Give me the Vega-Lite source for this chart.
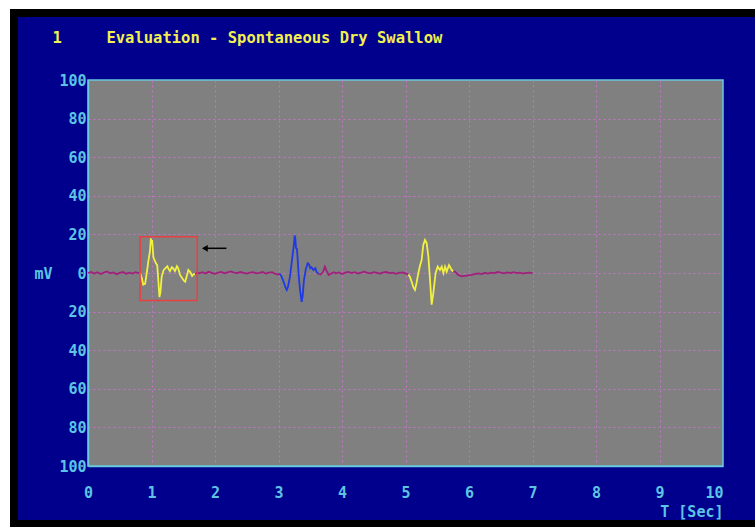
{
  "$schema": "https://vega.github.io/schema/vega-lite/v6.json",
  "autosize": {"type": "none"},
  "width": 635,
  "height": 386,
  "padding": {"left": 88, "top": 80, "right": 32, "bottom": 61},
  "background": "#00008c",
  "config": {
    "view": {"fill": "#808080", "stroke": "#68c8dc", "strokeWidth": 1.5},
    "axis": {
      "labelFont": "DejaVu Sans Mono",
      "labelFontSize": 15,
      "labelFontWeight": "bold",
      "labelColor": "#5cc4e4",
      "labelOverlap": false,
      "labelFlush": false,
      "titleFont": "DejaVu Sans Mono",
      "titleFontSize": 15,
      "titleFontWeight": "bold",
      "titleColor": "#5cc4e4",
      "domainColor": "#68c8dc",
      "domainWidth": 1.5,
      "ticks": false,
      "grid": true,
      "gridDash": [2, 3],
      "gridWidth": 1
    }
  },
  "datasets": {
    "signal": [
      {"t": 0.0, "v": 0.0, "kind": "base", "seg": "b1"},
      {"t": 0.05, "v": 0.5, "kind": "base", "seg": "b1"},
      {"t": 0.1, "v": -0.3, "kind": "base", "seg": "b1"},
      {"t": 0.15, "v": 0.4, "kind": "base", "seg": "b1"},
      {"t": 0.2, "v": -0.5, "kind": "base", "seg": "b1"},
      {"t": 0.25, "v": 0.2, "kind": "base", "seg": "b1"},
      {"t": 0.3, "v": 0.8, "kind": "base", "seg": "b1"},
      {"t": 0.35, "v": -0.2, "kind": "base", "seg": "b1"},
      {"t": 0.4, "v": 0.3, "kind": "base", "seg": "b1"},
      {"t": 0.45, "v": -0.6, "kind": "base", "seg": "b1"},
      {"t": 0.5, "v": 0.1, "kind": "base", "seg": "b1"},
      {"t": 0.55, "v": 0.5, "kind": "base", "seg": "b1"},
      {"t": 0.6, "v": -0.4, "kind": "base", "seg": "b1"},
      {"t": 0.65, "v": 0.2, "kind": "base", "seg": "b1"},
      {"t": 0.7, "v": -0.3, "kind": "base", "seg": "b1"},
      {"t": 0.75, "v": 0.4, "kind": "base", "seg": "b1"},
      {"t": 0.8, "v": -0.2, "kind": "base", "seg": "b1"},
      {"t": 0.82, "v": 0.0, "kind": "base", "seg": "b1"},

      {"t": 0.82, "v": 0.0, "kind": "yellow", "seg": "y1"},
      {"t": 0.85, "v": -3.0, "kind": "yellow", "seg": "y1"},
      {"t": 0.87, "v": -6.0, "kind": "yellow", "seg": "y1"},
      {"t": 0.9, "v": -5.5, "kind": "yellow", "seg": "y1"},
      {"t": 0.925, "v": 0.0, "kind": "yellow", "seg": "y1"},
      {"t": 0.95, "v": 6.0, "kind": "yellow", "seg": "y1"},
      {"t": 0.975, "v": 11.0, "kind": "yellow", "seg": "y1"},
      {"t": 0.99, "v": 18.0, "kind": "yellow", "seg": "y1"},
      {"t": 1.0, "v": 15.0, "kind": "yellow", "seg": "y1"},
      {"t": 1.01, "v": 17.0, "kind": "yellow", "seg": "y1"},
      {"t": 1.03, "v": 8.0, "kind": "yellow", "seg": "y1"},
      {"t": 1.05, "v": 6.5, "kind": "yellow", "seg": "y1"},
      {"t": 1.07, "v": 5.0, "kind": "yellow", "seg": "y1"},
      {"t": 1.09, "v": 4.0, "kind": "yellow", "seg": "y1"},
      {"t": 1.11, "v": -5.0, "kind": "yellow", "seg": "y1"},
      {"t": 1.125, "v": -12.5, "kind": "yellow", "seg": "y1"},
      {"t": 1.14, "v": -10.0, "kind": "yellow", "seg": "y1"},
      {"t": 1.16, "v": -2.0, "kind": "yellow", "seg": "y1"},
      {"t": 1.19, "v": 1.5, "kind": "yellow", "seg": "y1"},
      {"t": 1.22, "v": 2.5, "kind": "yellow", "seg": "y1"},
      {"t": 1.25, "v": 3.5, "kind": "yellow", "seg": "y1"},
      {"t": 1.27, "v": 2.0, "kind": "yellow", "seg": "y1"},
      {"t": 1.29, "v": 1.0, "kind": "yellow", "seg": "y1"},
      {"t": 1.32, "v": 3.0, "kind": "yellow", "seg": "y1"},
      {"t": 1.34, "v": 2.5, "kind": "yellow", "seg": "y1"},
      {"t": 1.37, "v": 1.0, "kind": "yellow", "seg": "y1"},
      {"t": 1.4, "v": 3.5, "kind": "yellow", "seg": "y1"},
      {"t": 1.42, "v": 2.5, "kind": "yellow", "seg": "y1"},
      {"t": 1.45, "v": -1.0, "kind": "yellow", "seg": "y1"},
      {"t": 1.48, "v": -2.5, "kind": "yellow", "seg": "y1"},
      {"t": 1.51, "v": -4.0, "kind": "yellow", "seg": "y1"},
      {"t": 1.53, "v": -4.5, "kind": "yellow", "seg": "y1"},
      {"t": 1.56, "v": -1.0, "kind": "yellow", "seg": "y1"},
      {"t": 1.58, "v": 1.5, "kind": "yellow", "seg": "y1"},
      {"t": 1.61, "v": 0.5, "kind": "yellow", "seg": "y1"},
      {"t": 1.64, "v": -1.5, "kind": "yellow", "seg": "y1"},
      {"t": 1.67, "v": -0.5, "kind": "yellow", "seg": "y1"},
      {"t": 1.69, "v": -0.7, "kind": "yellow", "seg": "y1"},

      {"t": 1.69, "v": -0.7, "kind": "base", "seg": "b2"},
      {"t": 1.72, "v": 0.3, "kind": "base", "seg": "b2"},
      {"t": 1.75, "v": -0.2, "kind": "base", "seg": "b2"},
      {"t": 1.8, "v": 0.4, "kind": "base", "seg": "b2"},
      {"t": 1.85, "v": -0.3, "kind": "base", "seg": "b2"},
      {"t": 1.9, "v": 0.6, "kind": "base", "seg": "b2"},
      {"t": 1.95, "v": 0.1, "kind": "base", "seg": "b2"},
      {"t": 2.0, "v": -0.4, "kind": "base", "seg": "b2"},
      {"t": 2.05, "v": 0.2, "kind": "base", "seg": "b2"},
      {"t": 2.1, "v": 0.5, "kind": "base", "seg": "b2"},
      {"t": 2.15, "v": -0.2, "kind": "base", "seg": "b2"},
      {"t": 2.2, "v": 0.3, "kind": "base", "seg": "b2"},
      {"t": 2.25, "v": 0.8, "kind": "base", "seg": "b2"},
      {"t": 2.3, "v": 0.2, "kind": "base", "seg": "b2"},
      {"t": 2.35, "v": -0.1, "kind": "base", "seg": "b2"},
      {"t": 2.4, "v": 0.5, "kind": "base", "seg": "b2"},
      {"t": 2.45, "v": 0.1, "kind": "base", "seg": "b2"},
      {"t": 2.5, "v": -0.3, "kind": "base", "seg": "b2"},
      {"t": 2.55, "v": 0.2, "kind": "base", "seg": "b2"},
      {"t": 2.6, "v": 0.4, "kind": "base", "seg": "b2"},
      {"t": 2.65, "v": -0.2, "kind": "base", "seg": "b2"},
      {"t": 2.7, "v": 0.1, "kind": "base", "seg": "b2"},
      {"t": 2.75, "v": 0.5, "kind": "base", "seg": "b2"},
      {"t": 2.8, "v": -0.3, "kind": "base", "seg": "b2"},
      {"t": 2.85, "v": 0.2, "kind": "base", "seg": "b2"},
      {"t": 2.9, "v": 0.4, "kind": "base", "seg": "b2"},
      {"t": 2.95, "v": -0.5, "kind": "base", "seg": "b2"},
      {"t": 3.0, "v": -0.8, "kind": "base", "seg": "b2"},
      {"t": 3.02, "v": -0.3, "kind": "base", "seg": "b2"},

      {"t": 3.02, "v": -0.3, "kind": "blue", "seg": "u1"},
      {"t": 3.05, "v": -2.0, "kind": "blue", "seg": "u1"},
      {"t": 3.08, "v": -4.5, "kind": "blue", "seg": "u1"},
      {"t": 3.11, "v": -7.5, "kind": "blue", "seg": "u1"},
      {"t": 3.13, "v": -8.8, "kind": "blue", "seg": "u1"},
      {"t": 3.15, "v": -7.0, "kind": "blue", "seg": "u1"},
      {"t": 3.18, "v": -2.0, "kind": "blue", "seg": "u1"},
      {"t": 3.21, "v": 6.0, "kind": "blue", "seg": "u1"},
      {"t": 3.24, "v": 14.0, "kind": "blue", "seg": "u1"},
      {"t": 3.255, "v": 19.5, "kind": "blue", "seg": "u1"},
      {"t": 3.265, "v": 18.0, "kind": "blue", "seg": "u1"},
      {"t": 3.275, "v": 13.0, "kind": "blue", "seg": "u1"},
      {"t": 3.29, "v": 12.5, "kind": "blue", "seg": "u1"},
      {"t": 3.3, "v": 8.0, "kind": "blue", "seg": "u1"},
      {"t": 3.32, "v": -2.0, "kind": "blue", "seg": "u1"},
      {"t": 3.34, "v": -9.0, "kind": "blue", "seg": "u1"},
      {"t": 3.365, "v": -15.0, "kind": "blue", "seg": "u1"},
      {"t": 3.38, "v": -12.0, "kind": "blue", "seg": "u1"},
      {"t": 3.4, "v": -4.0, "kind": "blue", "seg": "u1"},
      {"t": 3.43, "v": 2.0, "kind": "blue", "seg": "u1"},
      {"t": 3.46, "v": 5.0, "kind": "blue", "seg": "u1"},
      {"t": 3.48, "v": 4.5, "kind": "blue", "seg": "u1"},
      {"t": 3.5, "v": 2.5, "kind": "blue", "seg": "u1"},
      {"t": 3.52, "v": 3.0, "kind": "blue", "seg": "u1"},
      {"t": 3.55, "v": 1.5, "kind": "blue", "seg": "u1"},
      {"t": 3.58, "v": 2.5, "kind": "blue", "seg": "u1"},
      {"t": 3.6, "v": 0.5, "kind": "blue", "seg": "u1"},
      {"t": 3.63, "v": -0.5, "kind": "blue", "seg": "u1"},

      {"t": 3.63, "v": -0.5, "kind": "base", "seg": "b3"},
      {"t": 3.66, "v": -0.8, "kind": "base", "seg": "b3"},
      {"t": 3.7, "v": 0.5, "kind": "base", "seg": "b3"},
      {"t": 3.73, "v": 3.3, "kind": "base", "seg": "b3"},
      {"t": 3.76, "v": 1.0, "kind": "base", "seg": "b3"},
      {"t": 3.79, "v": -1.0, "kind": "base", "seg": "b3"},
      {"t": 3.83, "v": -0.3, "kind": "base", "seg": "b3"},
      {"t": 3.87, "v": 0.4, "kind": "base", "seg": "b3"},
      {"t": 3.9, "v": -0.2, "kind": "base", "seg": "b3"},
      {"t": 3.95, "v": 0.3, "kind": "base", "seg": "b3"},
      {"t": 4.0, "v": -0.5, "kind": "base", "seg": "b3"},
      {"t": 4.05, "v": 0.2, "kind": "base", "seg": "b3"},
      {"t": 4.1, "v": 0.6, "kind": "base", "seg": "b3"},
      {"t": 4.15, "v": 0.0, "kind": "base", "seg": "b3"},
      {"t": 4.2, "v": 0.4, "kind": "base", "seg": "b3"},
      {"t": 4.25, "v": -0.3, "kind": "base", "seg": "b3"},
      {"t": 4.3, "v": 0.2, "kind": "base", "seg": "b3"},
      {"t": 4.35, "v": 0.7, "kind": "base", "seg": "b3"},
      {"t": 4.4, "v": 0.1, "kind": "base", "seg": "b3"},
      {"t": 4.45, "v": -0.2, "kind": "base", "seg": "b3"},
      {"t": 4.5, "v": 0.4, "kind": "base", "seg": "b3"},
      {"t": 4.55, "v": 0.1, "kind": "base", "seg": "b3"},
      {"t": 4.6, "v": -0.3, "kind": "base", "seg": "b3"},
      {"t": 4.65, "v": 0.3, "kind": "base", "seg": "b3"},
      {"t": 4.7, "v": 0.5, "kind": "base", "seg": "b3"},
      {"t": 4.75, "v": -0.1, "kind": "base", "seg": "b3"},
      {"t": 4.8, "v": 0.2, "kind": "base", "seg": "b3"},
      {"t": 4.85, "v": -0.4, "kind": "base", "seg": "b3"},
      {"t": 4.9, "v": 0.1, "kind": "base", "seg": "b3"},
      {"t": 4.95, "v": 0.3, "kind": "base", "seg": "b3"},
      {"t": 5.0, "v": -0.2, "kind": "base", "seg": "b3"},
      {"t": 5.045, "v": -0.8, "kind": "base", "seg": "b3"},

      {"t": 5.045, "v": -0.8, "kind": "yellow", "seg": "y2"},
      {"t": 5.07, "v": -2.0, "kind": "yellow", "seg": "y2"},
      {"t": 5.097, "v": -4.5, "kind": "yellow", "seg": "y2"},
      {"t": 5.125, "v": -7.5, "kind": "yellow", "seg": "y2"},
      {"t": 5.149, "v": -8.8, "kind": "yellow", "seg": "y2"},
      {"t": 5.175, "v": -5.0, "kind": "yellow", "seg": "y2"},
      {"t": 5.202, "v": 0.0, "kind": "yellow", "seg": "y2"},
      {"t": 5.23, "v": 4.0, "kind": "yellow", "seg": "y2"},
      {"t": 5.254, "v": 6.7, "kind": "yellow", "seg": "y2"},
      {"t": 5.28, "v": 14.5, "kind": "yellow", "seg": "y2"},
      {"t": 5.307, "v": 17.1, "kind": "yellow", "seg": "y2"},
      {"t": 5.333, "v": 15.5, "kind": "yellow", "seg": "y2"},
      {"t": 5.36, "v": 8.6, "kind": "yellow", "seg": "y2"},
      {"t": 5.386, "v": -3.5, "kind": "yellow", "seg": "y2"},
      {"t": 5.412, "v": -16.4, "kind": "yellow", "seg": "y2"},
      {"t": 5.438, "v": -10.4, "kind": "yellow", "seg": "y2"},
      {"t": 5.475, "v": 0.0, "kind": "yellow", "seg": "y2"},
      {"t": 5.507, "v": 3.3, "kind": "yellow", "seg": "y2"},
      {"t": 5.543, "v": 1.6, "kind": "yellow", "seg": "y2"},
      {"t": 5.57, "v": 3.3, "kind": "yellow", "seg": "y2"},
      {"t": 5.596, "v": 0.0, "kind": "yellow", "seg": "y2"},
      {"t": 5.622, "v": 3.3, "kind": "yellow", "seg": "y2"},
      {"t": 5.648, "v": 0.7, "kind": "yellow", "seg": "y2"},
      {"t": 5.685, "v": 4.1, "kind": "yellow", "seg": "y2"},
      {"t": 5.727, "v": 1.6, "kind": "yellow", "seg": "y2"},
      {"t": 5.753, "v": 0.7, "kind": "yellow", "seg": "y2"},

      {"t": 5.753, "v": 0.7, "kind": "base", "seg": "b4"},
      {"t": 5.78, "v": 0.7, "kind": "base", "seg": "b4"},
      {"t": 5.83, "v": -1.0, "kind": "base", "seg": "b4"},
      {"t": 5.885, "v": -1.7, "kind": "base", "seg": "b4"},
      {"t": 5.96, "v": -1.4, "kind": "base", "seg": "b4"},
      {"t": 6.04, "v": -1.0, "kind": "base", "seg": "b4"},
      {"t": 6.1, "v": -0.5, "kind": "base", "seg": "b4"},
      {"t": 6.15, "v": -0.2, "kind": "base", "seg": "b4"},
      {"t": 6.2, "v": -0.6, "kind": "base", "seg": "b4"},
      {"t": 6.25, "v": 0.1, "kind": "base", "seg": "b4"},
      {"t": 6.3, "v": -0.3, "kind": "base", "seg": "b4"},
      {"t": 6.35, "v": 0.2, "kind": "base", "seg": "b4"},
      {"t": 6.4, "v": -0.1, "kind": "base", "seg": "b4"},
      {"t": 6.45, "v": 0.5, "kind": "base", "seg": "b4"},
      {"t": 6.5, "v": 0.2, "kind": "base", "seg": "b4"},
      {"t": 6.55, "v": -0.2, "kind": "base", "seg": "b4"},
      {"t": 6.6, "v": 0.3, "kind": "base", "seg": "b4"},
      {"t": 6.65, "v": 0.0, "kind": "base", "seg": "b4"},
      {"t": 6.7, "v": 0.4, "kind": "base", "seg": "b4"},
      {"t": 6.75, "v": -0.1, "kind": "base", "seg": "b4"},
      {"t": 6.8, "v": 0.2, "kind": "base", "seg": "b4"},
      {"t": 6.85, "v": -0.3, "kind": "base", "seg": "b4"},
      {"t": 6.9, "v": 0.1, "kind": "base", "seg": "b4"},
      {"t": 6.95, "v": 0.2, "kind": "base", "seg": "b4"},
      {"t": 7.0, "v": -0.1, "kind": "base", "seg": "b4"}
    ],
    "frame": [
      {"band": "outer", "t": -1.6, "t2": 10.7, "v": 150, "v2": 136.8},
      {"band": "outer", "t": -1.6, "t2": -1.228, "v": 150, "v2": -140},
      {"band": "edge", "t": -1.228, "t2": 10.7, "v": 136.8, "v2": 132.6},
      {"band": "edge", "t": -1.228, "t2": -1.102, "v": 136.8, "v2": -140},
      {"band": "edge", "t": -1.228, "t2": 10.7, "v": -128.0, "v2": -140}
    ],
    "heading": [
      {"t": -0.56, "v": 119.2, "label": "1"},
      {"t": 0.29, "v": 119.2, "label": "Evaluation - Spontaneous Dry Swallow"}
    ],
    "box": [
      {"t": 0.82, "t2": 1.72, "v": 18.8, "v2": -14.3}
    ],
    "arrow": [
      {"t": 1.84, "t2": 2.18, "v": 12.8}
    ]
  },
  "layer": [
    {
      "data": {"name": "frame"},
      "mark": {"type": "rect"},
      "encoding": {
        "x": {"field": "t", "type": "quantitative", "scale": {"domain": [0, 10], "nice": false, "zero": false},
          "axis": {
            "values": [0, 1, 2, 3, 4, 5, 6, 7, 8, 9, 10],
            "format": "d",
            "title": "T [Sec]",
            "labelPadding": 19,
            "labelBaseline": "top",
            "labelAlign": {"condition": {"test": "datum.value == 10", "value": "right"}, "value": "center"},
            "gridColor": {"condition": {"test": "datum.value == 0 || datum.value == 10", "value": "transparent"}, "value": "#c274c8"},
            "titleX": 635,
            "titleY": 45,
            "titleAlign": "right",
            "titleBaseline": "middle"
          }},
        "x2": {"field": "t2"},
        "y": {"field": "v", "type": "quantitative", "scale": {"domain": [-100, 100], "nice": false, "zero": false},
          "axis": {
            "values": [-100, -80, -60, -40, -20, 0, 20, 40, 60, 80, 100],
            "tickCount": 11,
            "labelExpr": "format(abs(datum.value), 'd')",
            "title": "mV",
            "labelPadding": 2,
            "gridColor": {"condition": {"test": "datum.value == 100 || datum.value == -100", "value": "transparent"}, "value": "#c274c8"},
            "titleAngle": 0,
            "titleX": -36,
            "titleY": 193,
            "titleAlign": "right",
            "titleBaseline": "middle"
          }},
        "y2": {"field": "v2"},
        "fill": {"field": "band", "type": "nominal", "scale": {"domain": ["outer", "edge"], "range": ["#ffffff", "#000000"]}, "legend": null}
      }
    },
    {
      "data": {"name": "heading"},
      "mark": {"type": "text", "align": "left", "baseline": "alphabetic", "font": "DejaVu Sans Mono", "fontSize": 15.5, "fontWeight": "bold", "color": "#f0f050"},
      "encoding": {
        "x": {"field": "t", "type": "quantitative"},
        "y": {"field": "v", "type": "quantitative"},
        "text": {"field": "label"}
      }
    },
    {
      "data": {"name": "signal"},
      "mark": {"type": "line", "strokeWidth": 1.8},
      "encoding": {
        "x": {"field": "t", "type": "quantitative"},
        "y": {"field": "v", "type": "quantitative"},
        "color": {"field": "kind", "type": "nominal", "scale": {"domain": ["base", "yellow", "blue"], "range": ["#a0207c", "#f2f040", "#1e3ae6"]}, "legend": null},
        "detail": {"field": "seg", "type": "nominal"}
      }
    },
    {
      "data": {"name": "box"},
      "mark": {"type": "rect", "filled": false, "stroke": "#e84040", "strokeWidth": 1.5},
      "encoding": {
        "x": {"field": "t", "type": "quantitative"},
        "x2": {"field": "t2"},
        "y": {"field": "v", "type": "quantitative"},
        "y2": {"field": "v2"}
      }
    },
    {
      "data": {"name": "arrow"},
      "mark": {"type": "rule", "color": "#000000", "strokeWidth": 1.5},
      "encoding": {
        "x": {"field": "t", "type": "quantitative"},
        "x2": {"field": "t2"},
        "y": {"field": "v", "type": "quantitative"}
      }
    },
    {
      "data": {"name": "arrow"},
      "mark": {"type": "point", "shape": "triangle-left", "filled": true, "color": "#000000", "size": 45, "opacity": 1},
      "encoding": {
        "x": {"field": "t", "type": "quantitative"},
        "y": {"field": "v", "type": "quantitative"}
      }
    }
  ]
}
